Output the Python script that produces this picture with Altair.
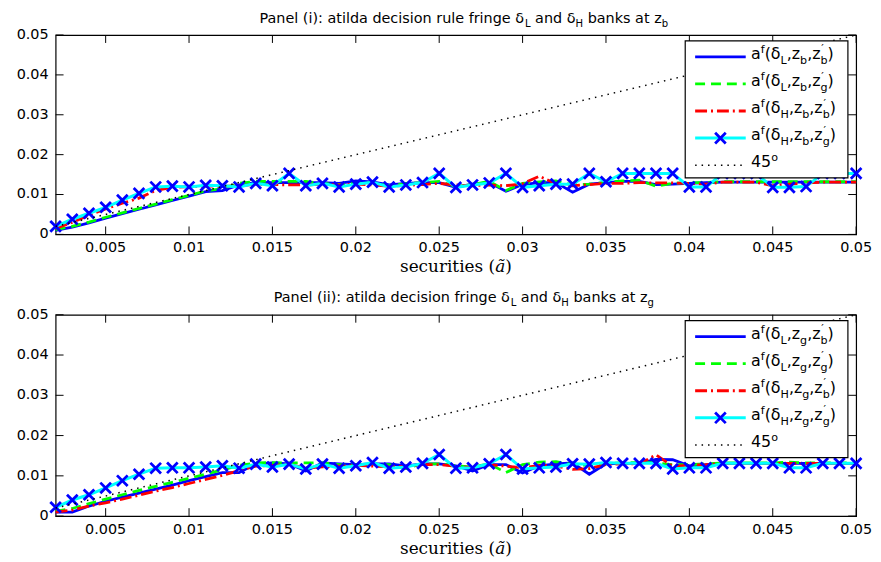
import altair as alt
import pandas as pd

# ---------------- data ----------------
X_VALUES = [0.002, 0.003, 0.004, 0.005, 0.006, 0.007, 0.008, 0.009, 0.010, 0.011,
            0.012, 0.013, 0.014, 0.015, 0.016, 0.017, 0.018, 0.019, 0.020, 0.021,
            0.022, 0.023, 0.024, 0.025, 0.026, 0.027, 0.028, 0.029, 0.030, 0.031,
            0.032, 0.033, 0.034, 0.035, 0.036, 0.037, 0.038, 0.039, 0.040, 0.041,
            0.042, 0.043, 0.044, 0.045, 0.046, 0.047, 0.048, 0.049, 0.050]

# Panel (i): z_b
TOP_BLUE = [.0010, .0018, .0029, .0041, .0052, .0063, .0074, .0085, .0096, .0107,
            .0110, .0124, .0130, .0130, .0130, .0130, .0130, .0128, .0134, .0132,
            .0124, .0128, .0130, .0130, .0118, .0126, .0130, .0108, .0125, .0130,
            .0130, .0106, .0126, .0130, .0133, .0133, .0125, .0126, .0128, .0130,
            .0131, .0131, .0131, .0131, .0131, .0131, .0131, .0131, .0131]
TOP_GREEN = [.0012, .0020, .0031, .0043, .0054, .0065, .0076, .0087, .0098, .0109,
             .0115, .0128, .0133, .0133, .0133, .0133, .0128, .0125, .0128, .0130,
             .0122, .0127, .0130, .0133, .0120, .0125, .0133, .0110, .0128, .0132,
             .0134, .0124, .0126, .0130, .0134, .0136, .0121, .0128, .0130, .0130,
             .0132, .0132, .0132, .0132, .0132, .0132, .0132, .0132, .0132]
TOP_RED = [.0015, .0030, .0048, .0064, .0078, .0091, .0110, .0118, .0120, .0121,
           .0121, .0121, .0126, .0125, .0124, .0124, .0126, .0124, .0126, .0124,
           .0121, .0123, .0125, .0128, .0124, .0122, .0124, .0122, .0127, .0146,
           .0127, .0122, .0125, .0128, .0128, .0130, .0129, .0129, .0128, .0126,
           .0131, .0131, .0131, .0122, .0126, .0129, .0131, .0131, .0131]
TOP_CYAN = [.0020, .0038, .0053, .0068, .0086, .0103, .0119, .0121, .0119, .0123,
            .0122, .0119, .0128, .0122, .0153, .0122, .0128, .0119, .0126, .0131,
            .0119, .0124, .0130, .0153, .0118, .0124, .0129, .0153, .0118, .0122,
            .0126, .0126, .0153, .0132, .0153, .0153, .0153, .0153, .0119, .0119,
            .0153, .0153, .0153, .0118, .0118, .0120, .0153, .0153, .0153]

# Panel (ii): z_g
BOT_BLUE = [.0010, .0010, .0025, .0037, .0047, .0057, .0067, .0077, .0088, .0098,
            .0108, .0108, .0130, .0132, .0130, .0112, .0132, .0130, .0128, .0130,
            .0130, .0125, .0130, .0130, .0125, .0112, .0128, .0128, .0107, .0125,
            .0130, .0132, .0104, .0130, .0131, .0131, .0141, .0140, .0125, .0128,
            .0131, .0131, .0131, .0131, .0131, .0131, .0131, .0131, .0131]
BOT_GREEN = [.0012, .0019, .0031, .0042, .0053, .0064, .0074, .0084, .0094, .0104,
             .0115, .0126, .0132, .0133, .0132, .0132, .0132, .0128, .0128, .0130,
             .0128, .0118, .0130, .0130, .0125, .0122, .0130, .0108, .0128, .0134,
             .0135, .0128, .0126, .0130, .0133, .0133, .0132, .0128, .0128, .0130,
             .0132, .0132, .0132, .0132, .0134, .0132, .0132, .0132, .0132]
BOT_RED = [.0010, .0015, .0025, .0033, .0042, .0052, .0062, .0071, .0081, .0091,
           .0101, .0113, .0124, .0126, .0128, .0120, .0122, .0124, .0126, .0124,
           .0122, .0124, .0128, .0128, .0124, .0120, .0128, .0124, .0120, .0126,
           .0124, .0116, .0118, .0128, .0130, .0130, .0152, .0124, .0126, .0128,
           .0131, .0131, .0131, .0131, .0131, .0131, .0131, .0131, .0131]
BOT_CYAN = [.0022, .0040, .0053, .0070, .0088, .0104, .0119, .0120, .0120, .0122,
            .0125, .0119, .0129, .0122, .0129, .0117, .0129, .0119, .0125, .0133,
            .0119, .0122, .0131, .0153, .0119, .0120, .0130, .0153, .0117, .0120,
            .0122, .0130, .0129, .0133, .0131, .0131, .0131, .0117, .0120, .0120,
            .0131, .0131, .0131, .0131, .0120, .0120, .0131, .0131, .0131]

DIAG = [0.002, 0.05]
X_TICKS = [0.005, 0.01, 0.015, 0.02, 0.025, 0.03, 0.035, 0.04, 0.045, 0.05]
X_TICK_LABELS = ["0.005", "0.01", "0.015", "0.02", "0.025", "0.03", "0.035", "0.04", "0.045", "0.05"]
Y_TICKS = [0, 0.01, 0.02, 0.03, 0.04, 0.05]
Y_TICK_LABELS = ["0", "0.01", "0.02", "0.03", "0.04", "0.05"]

TITLE_1 = [("n", "Panel (i): atilda decision rule fringe δ"), ("sub", "L"), ("n", " and δ"),
           ("sub", "H"), ("n", " banks at z"), ("sub", "b")]
TITLE_2 = [("n", "Panel (ii): atilda decision fringe δ"), ("sub", "L"), ("n", " and δ"),
           ("sub", "H"), ("n", " banks at z"), ("sub", "g")]
STATE_1 = "b"
STATE_2 = "g"
XTITLE = [("n", "securities ("), ("i", "ã"), ("n", ")")]

# ---------------- text helpers ----------------
SANS_W = {" ": 318, "(": 390, ")": 390, ",": 318, ".": 318, ":": 337, "0": 636, "4": 636, "5": 636,
          "a": 613, "b": 635, "c": 550, "d": 635, "e": 615, "f": 352, "g": 635, "h": 634, "i": 278,
          "k": 579, "l": 278, "n": 634, "o": 612, "r": 411, "s": 521, "t": 392, "u": 634, "z": 525,
          "P": 603, "L": 557, "H": 752, "δ": 612, "′": 300}
SERIF_W = {" ": 318, "(": 390, ")": 390, "s": 513, "e": 592, "c": 560, "u": 644, "r": 478,
           "i": 320, "t": 402, "ã": 596}


def tw(s, table):
    return sum(table.get(c, 600) for c in s) / 1000.0


def segs(parts, x0, y0, fs, table, sub=0.33, sup=0.38, scale=0.7):
    rows = []
    x = x0
    ss = fs * scale
    for kind, t in parts:
        if kind in ("n", "i"):
            lead = len(t) - len(t.lstrip(" "))
            body = t.strip(" ")
            rows.append((x + tw(" " * lead, table) * fs, y0, body, fs, kind))
            x += tw(t, table) * fs
        elif kind == "sub":
            rows.append((x, y0 + sub * fs, t, ss, "n"))
            x += tw(t, table) * ss
        elif kind == "sup":
            rows.append((x, y0 - sup * fs, t, ss, "n"))
            x += tw(t, table) * ss
        elif kind == "pb":
            rows.append((x + 0.8, y0 - 0.40 * fs, "′", ss, "n"))
            rows.append((x, y0 + 0.34 * fs, t, ss, "n"))
            x += max(tw("′", table), tw(t, table)) * ss
    return rows, x - x0


def text_layer(rows, font, style="normal"):
    df = pd.DataFrame([r[:4] for r in rows], columns=["px", "py", "txt", "fs"])
    return alt.Chart(df).mark_text(
        align="left", baseline="alphabetic", font=font, color="black", fontStyle=style
    ).encode(
        x=alt.X("px:Q", scale=None, axis=None),
        y=alt.Y("py:Q", scale=None, axis=None),
        text="txt:N",
        size=alt.Size("fs:Q", scale=None, legend=None),
    )


# ---------------- panel builder ----------------
W = 807
XPATH = "M-1,-1L1,1M1,-1L-1,1"
FONT = "DejaVu Sans"
LW = 2.8
TICK_FS = 14.5


def panel(blue, green, red, cyan, title_parts, state, H, title_base):
    df = pd.DataFrame({"x": X_VALUES, "blue": blue, "green": green, "red": red, "cyan": cyan})
    diag_df = pd.DataFrame({"x": DIAG, "y": DIAG})
    xt_df = pd.DataFrame({"v": X_TICKS, "lab": X_TICK_LABELS})
    yt_df = pd.DataFrame({"v": Y_TICKS, "lab": Y_TICK_LABELS})
    one = pd.DataFrame({"k": [0]})

    xs = alt.Scale(domain=[0.002, 0.05], nice=False, zero=False)
    ys = alt.Scale(domain=[0, 0.05], nice=False, zero=False)
    X = alt.X("x:Q", scale=xs, axis=None)

    base = alt.Chart(df)
    layers = [
        base.mark_line(color="#0000ff", strokeWidth=LW).encode(
            x=X, y=alt.Y("blue:Q", scale=ys, axis=None)),
        base.mark_line(color="#00ff00", strokeWidth=LW, strokeDash=[10, 6]).encode(
            x=X, y=alt.Y("green:Q", scale=ys, axis=None)),
        base.mark_line(color="#ff0000", strokeWidth=LW, strokeDash=[12, 4, 2, 4]).encode(
            x=X, y=alt.Y("red:Q", scale=ys, axis=None)),
        base.mark_line(color="#00ffff", strokeWidth=LW + 0.2).encode(
            x=X, y=alt.Y("cyan:Q", scale=ys, axis=None)),
        base.mark_point(shape=XPATH, size=115, strokeWidth=2.8, color="#0000ff",
                        filled=False, opacity=1).encode(
            x=X, y=alt.Y("cyan:Q", scale=ys, axis=None)),
        alt.Chart(diag_df).mark_line(color="black", strokeWidth=1.5, strokeDash=[1.5, 5]).encode(
            x=X, y=alt.Y("y:Q", scale=ys, axis=None)),
        # inward ticks
        alt.Chart(xt_df).mark_rule(color="black", strokeWidth=1).encode(
            x=alt.X("v:Q", scale=xs, axis=None), y=alt.value(H), y2=alt.value(H - 8)),
        alt.Chart(xt_df).mark_rule(color="black", strokeWidth=1).encode(
            x=alt.X("v:Q", scale=xs, axis=None), y=alt.value(0), y2=alt.value(8)),
        alt.Chart(yt_df).mark_rule(color="black", strokeWidth=1).encode(
            y=alt.Y("v:Q", scale=ys, axis=None), x=alt.value(0), x2=alt.value(8)),
        alt.Chart(yt_df).mark_rule(color="black", strokeWidth=1).encode(
            y=alt.Y("v:Q", scale=ys, axis=None), x=alt.value(W), x2=alt.value(W - 8)),
        # tick labels
        alt.Chart(xt_df).mark_text(font=FONT, fontSize=TICK_FS, color="black", align="center",
                                   baseline="top").encode(
            x=alt.X("v:Q", scale=xs, axis=None), y=alt.value(H + 7), text="lab:N"),
        alt.Chart(yt_df).mark_text(font=FONT, fontSize=TICK_FS, color="black", align="right",
                                   baseline="middle").encode(
            y=alt.Y("v:Q", scale=ys, axis=None), x=alt.value(-7), text="lab:N"),
    ]

    # legend box
    lx1, lx2, ly1, ly2 = 634.7, 798.7, 6, 144
    layers.append(alt.Chart(one).mark_rect(fill="white", stroke="black", strokeWidth=1.2).encode(
        x=alt.value(lx1), x2=alt.value(lx2), y=alt.value(ly1), y2=alt.value(ly2)))
    rows_y = [22, 49.3, 76.6, 103.9, 131.2]
    sx1, sx2 = 644.7, 695.7
    styles = [
        dict(color="#0000ff", strokeWidth=LW),
        dict(color="#00ff00", strokeWidth=LW, strokeDash=[10, 6]),
        dict(color="#ff0000", strokeWidth=LW, strokeDash=[12, 4, 2, 4]),
        dict(color="#00ffff", strokeWidth=LW + 0.2),
        dict(color="black", strokeWidth=1.5, strokeDash=[1.5, 5]),
    ]
    for ry, st in zip(rows_y, styles):
        layers.append(alt.Chart(one).mark_rule(**st).encode(
            x=alt.value(sx1), x2=alt.value(sx2), y=alt.value(ry)))
    layers.append(alt.Chart(one).mark_point(shape=XPATH, size=115, strokeWidth=2.8, color="#0000ff",
                                            filled=False, opacity=1).encode(
        x=alt.value((sx1 + sx2) / 2), y=alt.value(rows_y[3])))

    legend_rows = []
    labels = [("L", "b"), ("L", "g"), ("H", "b"), ("H", "g")]
    for (d, zp), ry in zip(labels, rows_y[:4]):
        parts = [("n", "a"), ("sup", "f"), ("n", "(δ"), ("sub", d), ("n", ",z"), ("sub", state),
                 ("n", ",z"), ("pb", zp), ("n", ")")]
        r, _ = segs(parts, 701, ry + 2, 16, SANS_W)
        legend_rows += r
    r, _ = segs([("n", "45"), ("sup", "o")], 701, rows_y[4] + 2, 16, SANS_W)
    legend_rows += r
    layers.append(text_layer(legend_rows, FONT))

    # panel title
    _, tw_total = segs(title_parts, 0, 0, 14.5, SANS_W)
    trows, _ = segs(title_parts, W / 2 + 8 - tw_total / 2, title_base, 14.5, SANS_W)
    layers.append(text_layer(trows, FONT))

    # x-axis title (serif)
    _, xw = segs(XTITLE, 0, 0, 17, SERIF_W)
    xrows, _ = segs(XTITLE, W / 2 - xw / 2, H + 38, 17, SERIF_W)
    layers.append(text_layer([r for r in xrows if r[4] == "n"], "DejaVu Serif"))
    layers.append(text_layer([r for r in xrows if r[4] == "i"], "DejaVu Serif", "italic"))

    return alt.layer(*layers).properties(width=W, height=H)


p1 = panel(TOP_BLUE, TOP_GREEN, TOP_RED, TOP_CYAN, TITLE_1, STATE_1, 201, -12.4)
p2 = panel(BOT_BLUE, BOT_GREEN, BOT_RED, BOT_CYAN, TITLE_2, STATE_2, 203, -13.3)

chart = alt.vconcat(p1, p2, spacing=13).properties(
    padding={"left": 8, "top": 0, "right": 0, "bottom": 0}
).configure(background="white").configure_view(stroke="black", strokeWidth=1.2)

chart.save("out.html", embed_options={"renderer": "svg", "actions": False})
